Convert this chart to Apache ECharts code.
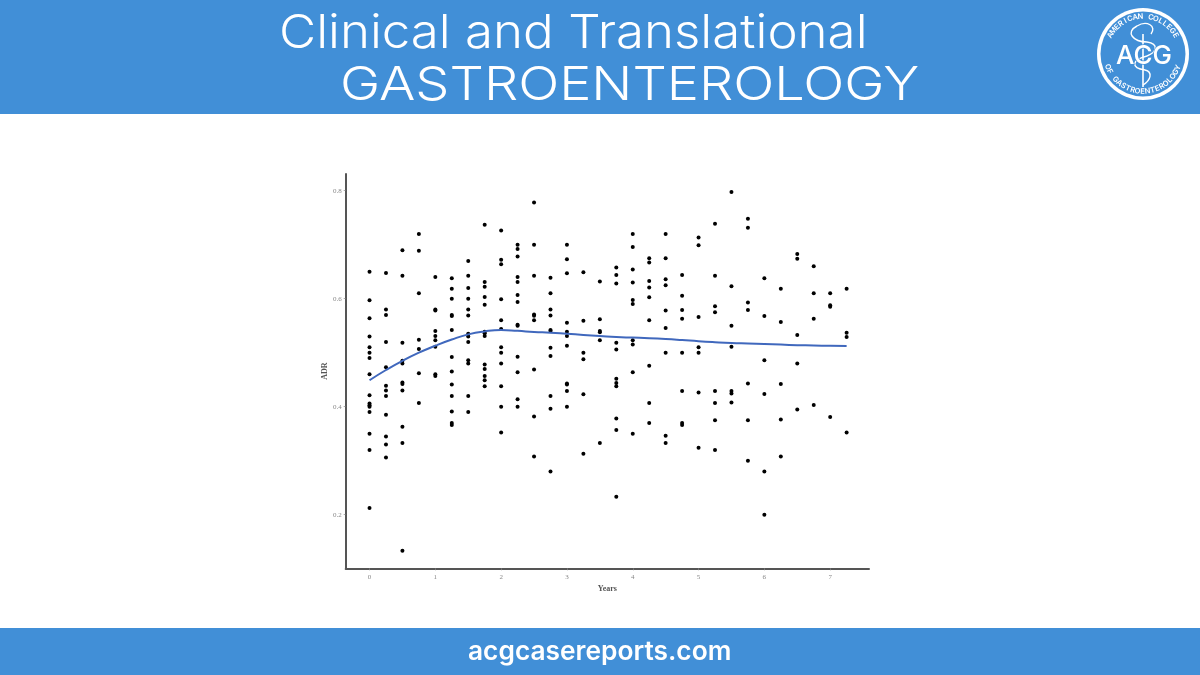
<!DOCTYPE html>
<html><head><meta charset="utf-8">
<style>html,body{margin:0;padding:0;background:#fff}#c{width:1200px;height:675px}</style>
<script src="https://cdn.jsdelivr.net/npm/echarts@6/dist/echarts.min.js"></script>
</head><body><div id="c"></div>
<script>
const yearColumns = [0,0.25,0.5,0.75,1,1.25,1.5,1.75,2,2.25,2.5,2.75,3,3.25,3.5,3.75,4,4.25,4.5,4.75,5,5.25,5.5,5.75,6,6.25,6.5,6.75,7,7.25];
const adrByColumn = [
 [0.65,0.597,0.564,0.53,0.51,0.5,0.49,0.46,0.421,0.406,0.4025,0.4,0.39,0.35,0.32,0.2123],
 [0.6475,0.58,0.57,0.52,0.473,0.439,0.43,0.42,0.385,0.345,0.33,0.306],
 [0.69,0.6425,0.5185,0.485,0.48,0.445,0.442,0.43,0.363,0.333,0.133],
 [0.72,0.689,0.61,0.524,0.507,0.462,0.407],
 [0.64,0.58,0.578,0.54,0.531,0.523,0.511,0.46,0.457],
 [0.638,0.6185,0.6,0.57,0.568,0.542,0.492,0.465,0.441,0.42,0.391,0.37,0.366],
 [0.67,0.6425,0.62,0.6,0.58,0.569,0.535,0.53,0.52,0.486,0.48,0.42,0.39],
 [0.737,0.631,0.622,0.603,0.589,0.539,0.536,0.531,0.478,0.47,0.457,0.449,0.438],
 [0.7265,0.672,0.664,0.599,0.56,0.544,0.51,0.5,0.48,0.438,0.4,0.352],
 [0.7,0.692,0.678,0.64,0.631,0.607,0.594,0.552,0.55,0.4926,0.464,0.414,0.4],
 [0.778,0.7,0.6425,0.571,0.5685,0.56,0.469,0.382,0.308],
 [0.639,0.61,0.58,0.569,0.542,0.54,0.509,0.494,0.42,0.396,0.28],
 [0.7,0.673,0.647,0.5555,0.539,0.531,0.513,0.443,0.441,0.429,0.4],
 [0.649,0.559,0.5,0.488,0.423,0.313],
 [0.632,0.562,0.54,0.538,0.523,0.333],
 [0.658,0.644,0.628,0.5185,0.506,0.452,0.444,0.438,0.378,0.357,0.233],
 [0.72,0.696,0.654,0.63,0.5975,0.59,0.523,0.515,0.464,0.35],
 [0.675,0.667,0.633,0.621,0.6025,0.56,0.476,0.407,0.37],
 [0.72,0.675,0.636,0.625,0.578,0.546,0.5,0.346,0.333],
 [0.644,0.6055,0.579,0.563,0.5,0.429,0.37,0.366],
 [0.7135,0.699,0.566,0.51,0.5,0.4265,0.324],
 [0.739,0.6425,0.586,0.575,0.429,0.407,0.375,0.32],
 [0.7975,0.623,0.55,0.511,0.429,0.4245,0.408],
 [0.748,0.7315,0.593,0.579,0.443,0.375,0.3],
 [0.638,0.568,0.486,0.4235,0.28,0.2],
 [0.6185,0.557,0.442,0.3765,0.308],
 [0.683,0.674,0.533,0.48,0.395],
 [0.66,0.61,0.563,0.403],
 [0.61,0.588,0.585,0.381],
 [0.6185,0.537,0.529,0.352]
];
const trendValues = [0.449,0.468,0.485,0.5,0.513,0.5245,0.534,0.5395,0.542,0.5405,0.5385,0.537,0.535,0.533,0.531,0.529,0.528,0.527,0.5255,0.5235,0.5213,0.5195,0.518,0.517,0.516,0.515,0.514,0.5133,0.5128,0.5124];
const xTicks = [0,1,2,3,4,5,6,7];
const yTicks = [0.2,0.4,0.6,0.8];
const headerLine1 = "Clinical and Translational";
const headerLine2 = "GASTROENTEROLOGY";
const footerText = "acgcasereports.com";
const xName = "Years", yName = "ADR";
const logoTop = "AMERICAN COLLEGE", logoBottom = "OF GASTROENTEROLOGY", logoMid = "ACG";

const points = [];
adrByColumn.forEach((col,i)=>col.forEach(v=>points.push([yearColumns[i],v])));
const trend = yearColumns.map((x,i)=>[x,trendValues[i]]);
const BLUE = '#418fd7';
const SANS = 'Inter, Lato, sans-serif';

const cx=1143, cy=54, textR=37.5;
const logo=[
 {type:'circle',shape:{cx,cy,r:46},style:{fill:'#fff'}},
 {type:'circle',shape:{cx,cy,r:42.5},style:{fill:BLUE}},
 {type:'line',shape:{x1:cx,y1:cy-20,x2:cx,y2:cy+33},style:{stroke:'#fff',lineWidth:1.6}},
 {type:'text',style:{x:cx+1,y:cy+2,text:logoMid,fill:'#fff',stroke:BLUE,lineWidth:1.5,font:'500 26px '+SANS,align:'center',verticalAlign:'middle'},z:5}
];
[[-6,-28,-18,-22,-10,-12,4,-12],[4,-12,16,-10,14,-2,4,2],[4,2,-12,6,-12,14,2,16],[2,16,10,18,8,26,0,31],[-6,-28,4,-34,14,-28,8,-20]].forEach(s=>{
 logo.push({type:'bezierCurve',shape:{x1:cx+s[0],y1:cy+s[1],cpx1:cx+s[2],cpy1:cy+s[3],cpx2:cx+s[4],cpy2:cy+s[5],x2:cx+s[6],y2:cy+s[7]},style:{fill:'none',stroke:'#fff',lineWidth:1.4}});
});
function arc(str,startDeg,stepDeg,top){
 [...str].forEach((ch,i)=>{
  const a=(startDeg+stepDeg*i)*Math.PI/180;
  logo.push({type:'text',x:cx+textR*Math.sin(a),y:cy-textR*Math.cos(a),rotation:top?-a:-(a-Math.PI),
   style:{x:0,y:0,text:ch,fill:'#fff',font:'600 7.5px '+SANS,align:'center',verticalAlign:'middle'},z:5});
 });
}
arc(logoTop,-60,8,true);
arc(logoBottom,250,-7.7,false);

const chart=echarts.init(document.getElementById('c'),null,{renderer:'canvas'});
chart.setOption({
 animation:false,
 backgroundColor:'#fff',
 grid:{left:345.7,right:331,top:174,bottom:106.7,containLabel:false},
 xAxis:{type:'value',min:-0.362,max:7.59,name:xName,nameLocation:'middle',nameGap:10,
  nameTextStyle:{fontFamily:'Liberation Serif',fontSize:8,fontWeight:'bold',color:'#555'},
  splitLine:{show:false},
  axisLine:{onZero:false,lineStyle:{color:'#555',width:2}},
  axisTick:{length:2,lineStyle:{color:'#888',width:0.7},customValues:xTicks},
  axisLabel:{customValues:xTicks,fontFamily:'Liberation Serif',fontSize:7,color:'#888',margin:5,formatter:v=>String(v)}},
 yAxis:{type:'value',min:0.1007,max:0.831,name:yName,nameLocation:'middle',nameGap:14,
  nameTextStyle:{fontFamily:'Liberation Serif',fontSize:8,fontWeight:'bold',color:'#555'},
  splitLine:{show:false},
  axisLine:{onZero:false,lineStyle:{color:'#555',width:2}},
  axisTick:{length:2,lineStyle:{color:'#888',width:0.7},customValues:yTicks},
  axisLabel:{customValues:yTicks,fontFamily:'Liberation Serif',fontSize:7,color:'#888',margin:4,formatter:v=>v.toFixed(1)}},
 series:[
  {type:'scatter',data:points,symbol:'circle',symbolSize:4,itemStyle:{color:'#000',opacity:1},z:2},
  {type:'line',data:trend,smooth:0.5,showSymbol:false,lineStyle:{color:'#4068bd',width:2},z:3}
 ],
 graphic:[
  {type:'rect',shape:{x:0,y:0,width:1200,height:114},style:{fill:BLUE},z:-1},
  {type:'rect',shape:{x:0,y:628,width:1200,height:47},style:{fill:BLUE},z:-1},
  {type:'text',x:279,y:33.5,scaleX:1.085,style:{x:0,y:0,text:headerLine1,fill:'#fff',font:'300 47px '+SANS,verticalAlign:'middle'}},
  {type:'text',x:340,y:85.5,scaleX:1.15,style:{x:0,y:0,text:headerLine2,fill:'#fff',font:'300 47px '+SANS,verticalAlign:'middle'}},
  {type:'text',x:468,y:652,scaleX:1.012,style:{x:0,y:0,text:footerText,fill:'#fff',font:'600 26px '+SANS,verticalAlign:'middle'}},
  ...logo
 ]
});
</script></body></html>
